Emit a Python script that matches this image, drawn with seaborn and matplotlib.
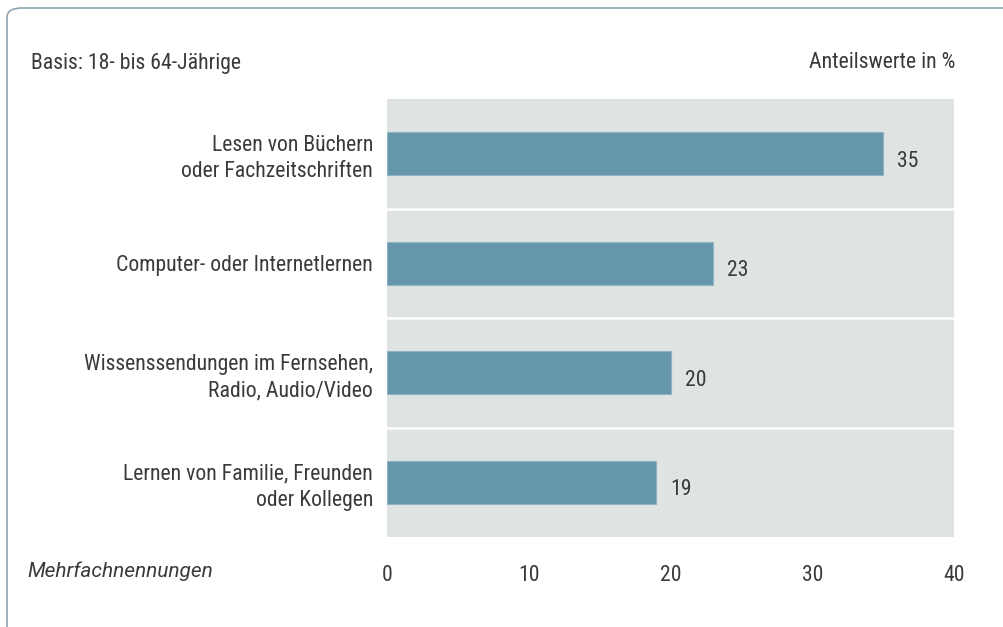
import matplotlib
matplotlib.use("Agg")
import matplotlib.pyplot as plt
from matplotlib.patches import FancyBboxPatch
import seaborn as sns
import pandas as pd

categories = [
    "Lesen von Büchern\noder Fachzeitschriften",
    "Computer- oder Internetlernen",
    "Wissenssendungen im Fernsehen,\nRadio, Audio/Video",
    "Lernen von Familie, Freunden\noder Kollegen",
]
values = [35, 23, 20, 19]
x_ticks = [0, 10, 20, 30, 40]

sns.set_theme(style="white")
plt.rcParams["font.family"] = ["Roboto Condensed", "DejaVu Sans"]

TEXT = "#3a3a3a"
BAR = "#6596aa"
BG = "#dfe3e2"
FS = 15.7

df = pd.DataFrame({"kategorie": categories, "wert": values})

W, H = 1004, 627
fig = plt.figure(figsize=(W / 100, H / 100), dpi=100)

# outer frame with rounded corner, running off the right and bottom edges
frame = FancyBboxPatch((7 / W, -0.2), 1.2, 1 - 8 / H + 0.2,
                       boxstyle="round,pad=0,rounding_size=0.015",
                       transform=fig.transFigure, fill=False,
                       edgecolor="#8ea5b0", linewidth=1.2)
fig.patches.append(frame)

ax = fig.add_axes([387 / W, 1 - 537 / H, 567 / W, 438 / H])
ax.set_facecolor(BG)

sns.barplot(data=df, x="wert", y="kategorie", orient="h", color=BAR,
            width=0.39, saturation=1, edgecolor="#8fb3c2", linewidth=0.8,
            ax=ax)

ax.set_xlim(0, 40)
ax.set_ylim(3.5, -0.5)
for yy in [0.5, 1.5, 2.5]:
    ax.axhline(yy, color="white", linewidth=1.8)

for i, v in enumerate(values):
    ax.text(v + 1.0, i + 0.07, f"{v}", va="center", ha="left",
            fontsize=FS, color=TEXT)

ax.set_xticks(x_ticks)
ax.set_xticklabels([str(t) for t in x_ticks])
ax.tick_params(axis="x", length=0, pad=20, labelsize=FS, labelcolor=TEXT)
ax.tick_params(axis="y", length=0, pad=10, labelsize=FS, labelcolor=TEXT)
for lab in ax.get_yticklabels():
    lab.set_horizontalalignment("right")
    lab.set_multialignment("right")
    lab.set_linespacing(1.3)
ax.set_xlabel("")
ax.set_ylabel("")
for s in ax.spines.values():
    s.set_visible(False)

fig.text(31 / W, 1 - 63 / H, "Basis: 18- bis 64-Jährige", ha="left",
         va="center", fontsize=FS, color=TEXT)
fig.text(955 / W, 1 - 63 / H, "Anteilswerte in %", ha="right",
         va="center", fontsize=FS, color=TEXT)
fig.text(27 / W, 1 - 571 / H, "Mehrfachnennungen", ha="left",
         va="center", fontsize=15, color=TEXT, style="italic",
         family=["Roboto", "DejaVu Sans"])

fig.savefig("out.png", dpi=100, facecolor="white")
